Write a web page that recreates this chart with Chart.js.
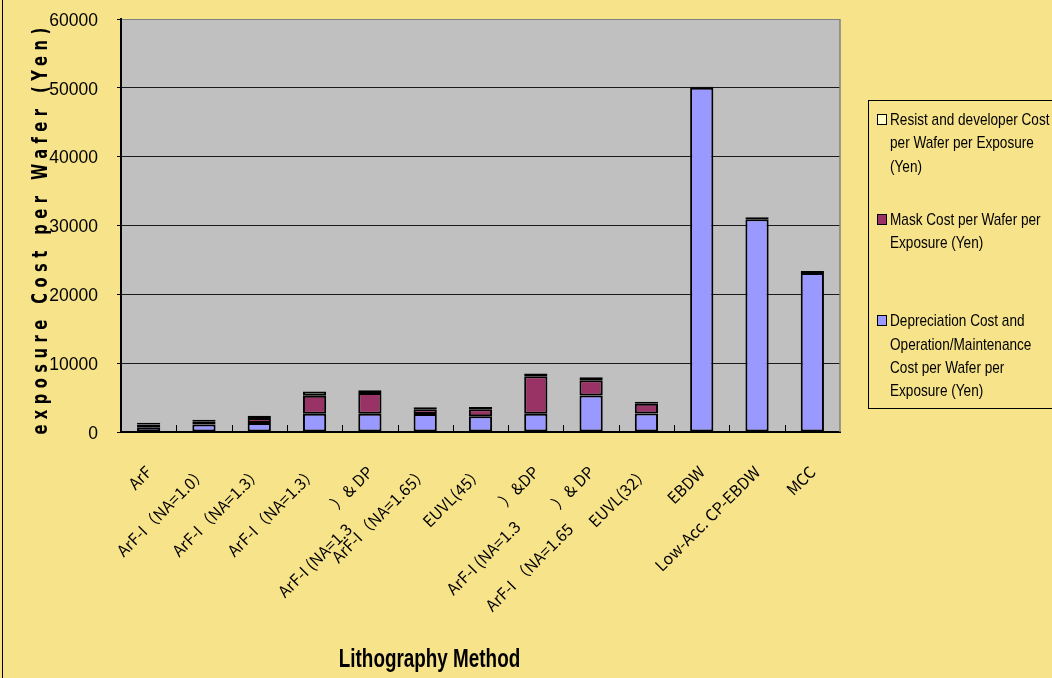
<!DOCTYPE html>
<html>
<head>
<meta charset="utf-8">
<script src="https://cdn.jsdelivr.net/npm/chart.js@4.4.1/dist/chart.umd.min.js"></script>
<style>
  html, body { margin: 0; padding: 0; overflow: hidden; }
  body { width: 1052px; height: 678px; background: #f7e38a; position: relative; }
  #frame { position: absolute; left: 2px; top: 0; width: 1px; height: 678px; background: #000; }
  canvas { position: absolute; left: 0; top: 0; }
  #legend {
    position: absolute; left: 868px; top: 100px; width: 220px; height: 309px;
    border: 1px solid #000; box-sizing: border-box;
    font-family: "Liberation Sans", sans-serif;
    font-size: 17px; line-height: 23.3px; color: #000; white-space: nowrap;
  }
  .item { position: relative; padding-left: 21px; }
  .item div { transform: scaleX(0.8); transform-origin: 0 0; }
  .swatch { position: absolute; left: 8px; top: 6px; width: 8px; height: 9px; border: 1px solid #000; }
</style>
</head>
<body>
<canvas id="chart" width="1052" height="678"></canvas>
<div id="frame"></div>
<div id="legend"></div>
<script>
/* stacked cost per wafer per exposure by lithography method */

const categories = [
  'ArF',
  'ArF-I（NA=1.0）',
  'ArF-I（NA=1.3）',
  'ArF-I（NA=1.3）',
  ['）& DP', 'ArF-I (NA=1.3\u3000\u3000\u3000  '],
  'ArF-I（NA=1.65）',
  'EUVL(45）',
  ['）&DP', 'ArF-I (NA=1.3\u3000\u3000\u3000 '],
  ['）& DP', 'ArF-I （NA=1.65\u3000\u3000\u3000  '],
  'EUVL(32）',
  'EBDW',
  'Low-Acc. CP-EBDW',
  'MCC'
];

const depreciation = [700, 1100, 1300, 2650, 2650, 2600, 2270, 2650, 5300, 2700, 50000, 30900, 23100];
const maskCost     = [400, 450, 750, 2600, 3000, 700, 1050, 5450, 2230, 1400, 0, 0, 0];
const resistCost   = [250, 230, 300, 650, 430, 300, 300, 400, 430, 290, 150, 300, 300];

const yTicks = [0, 10000, 20000, 30000, 40000, 50000, 60000];

const depLines    = ['Depreciation Cost and', 'Operation/Maintenance', 'Cost per Wafer per', 'Exposure (Yen)'];
const maskLines   = ['Mask Cost per Wafer per', 'Exposure (Yen)'];
const resistLines = ['Resist and developer Cost', 'per Wafer per Exposure', '(Yen)'];

const xTitle = 'Lithography Method';
const yTitle = 'exposure Cost per Wafer (Yen)';

const datasets = [
  { label: depLines.join(' '), lines: depLines, data: depreciation, backgroundColor: '#9999ff' },
  { label: maskLines.join(' '), lines: maskLines, data: maskCost, backgroundColor: '#993366' },
  { label: resistLines.join(' '), lines: resistLines, data: resistCost, backgroundColor: '#ffffcc' }
].map(d => Object.assign(d, {
  borderColor: '#000',
  borderWidth: 2,
  borderSkipped: false,
  barPercentage: 0.42,
  categoryPercentage: 1
}));

const plotFrame = {
  id: 'plotFrame',
  beforeDraw(chart) {
    const { ctx, chartArea: a } = chart;
    ctx.save();
    ctx.fillStyle = '#c0c0c0';
    ctx.fillRect(a.left, a.top, a.width, a.height);
    ctx.restore();
  },
  afterDraw(chart) {
    const { ctx, chartArea: a } = chart;
    const x = chart.scales.x;
    ctx.save();
    ctx.strokeStyle = '#808080';
    ctx.lineWidth = 1.5;
    ctx.beginPath();
    ctx.moveTo(a.right, a.top);
    ctx.lineTo(a.right, a.bottom);
    ctx.stroke();
    // tick marks pointing into the plot, between categories
    ctx.strokeStyle = '#000';
    ctx.lineWidth = 1;
    for (let i = 1; i < categories.length; i++) {
      const bx = Math.round((x.getPixelForValue(i - 1) + x.getPixelForValue(i)) / 2) + 0.5;
      ctx.beginPath();
      ctx.moveTo(bx, a.bottom);
      ctx.lineTo(bx, a.bottom - 7);
      ctx.stroke();
    }
    ctx.restore();
  }
};

// axis titles use a narrow, heavy face like the original, so squeeze them horizontally
const axisTitles = {
  id: 'axisTitles',
  afterDraw(chart) {
    const { ctx, chartArea: a } = chart;
    ctx.save();
    ctx.fillStyle = '#000';
    ctx.textAlign = 'center';
    ctx.textBaseline = 'alphabetic';
    ctx.translate(429.5, 666.5);
    ctx.scale(0.755, 1);
    ctx.font = 'bold 25px "Liberation Sans", sans-serif';
    ctx.fillText(xTitle, 0, 0);
    ctx.restore();

    ctx.save();
    ctx.fillStyle = '#000';
    ctx.textAlign = 'center';
    ctx.textBaseline = 'alphabetic';
    ctx.translate(47, (a.top + a.bottom) / 2 + 3);
    ctx.rotate(-Math.PI / 2);
    ctx.scale(0.7, 1);
    ctx.font = 'bold 21px "DejaVu Sans", sans-serif';
    ctx.letterSpacing = '7.8px';
    ctx.fillText(yTitle, 0, 0);
    ctx.restore();
  }
};

function buildLegend() {
  const el = document.getElementById('legend');
  const gaps = [7, 30, 55];
  datasets.slice().reverse().forEach((d, i) => {
    const item = document.createElement('div');
    item.className = 'item';
    item.style.marginTop = gaps[i] + 'px';
    const sw = document.createElement('span');
    sw.className = 'swatch';
    sw.style.background = d.backgroundColor;
    item.appendChild(sw);
    d.lines.forEach(t => {
      const line = document.createElement('div');
      line.textContent = t;
      item.appendChild(line);
    });
    el.appendChild(item);
  });
}

new Chart(document.getElementById('chart'), {
  type: 'bar',
  data: { labels: categories, datasets },
  plugins: [plotFrame, axisTitles],
  options: {
    responsive: false,
    animation: false,
    layout: { padding: { left: 0, right: 212, top: 19, bottom: 0 } },
    plugins: {
      legend: { display: false },
      tooltip: { enabled: false }
    },
    scales: {
      x: {
        stacked: true,
        grid: { display: false, drawTicks: false },
        border: { display: true, color: '#000', width: 2 },
        ticks: {
          autoSkip: false,
          minRotation: 45,
          maxRotation: 45,
          padding: 28,
          color: '#000',
          font: { family: '"Noto Sans CJK JP", sans-serif', size: 16, lineHeight: 1.6 }
        },
        afterFit: s => { s.height = 246; s.paddingLeft = 0; s.paddingRight = 0; }
      },
      y: {
        stacked: true,
        min: 0,
        max: 60000,
        afterBuildTicks: s => { s.ticks = yTicks.map(v => ({ value: v })); },
        grid: {
          color: c => (c.tick && c.tick.value === 60000 ? '#808080' : '#1a1a1a'),
          tickColor: '#000',
          tickLength: 4,
          lineWidth: 1
        },
        border: { color: '#000', width: 2 },
        ticks: {
          padding: 19,
          labelOffset: 2,
          color: '#000',
          font: { family: '"Liberation Sans", sans-serif', size: 17.5 },
          callback: v => String(v)
        },
        afterFit: s => { s.width = 121; s.paddingTop = 0; s.paddingBottom = 0; }
      }
    }
  }
});

buildLegend();
</script>
</body>
</html>
